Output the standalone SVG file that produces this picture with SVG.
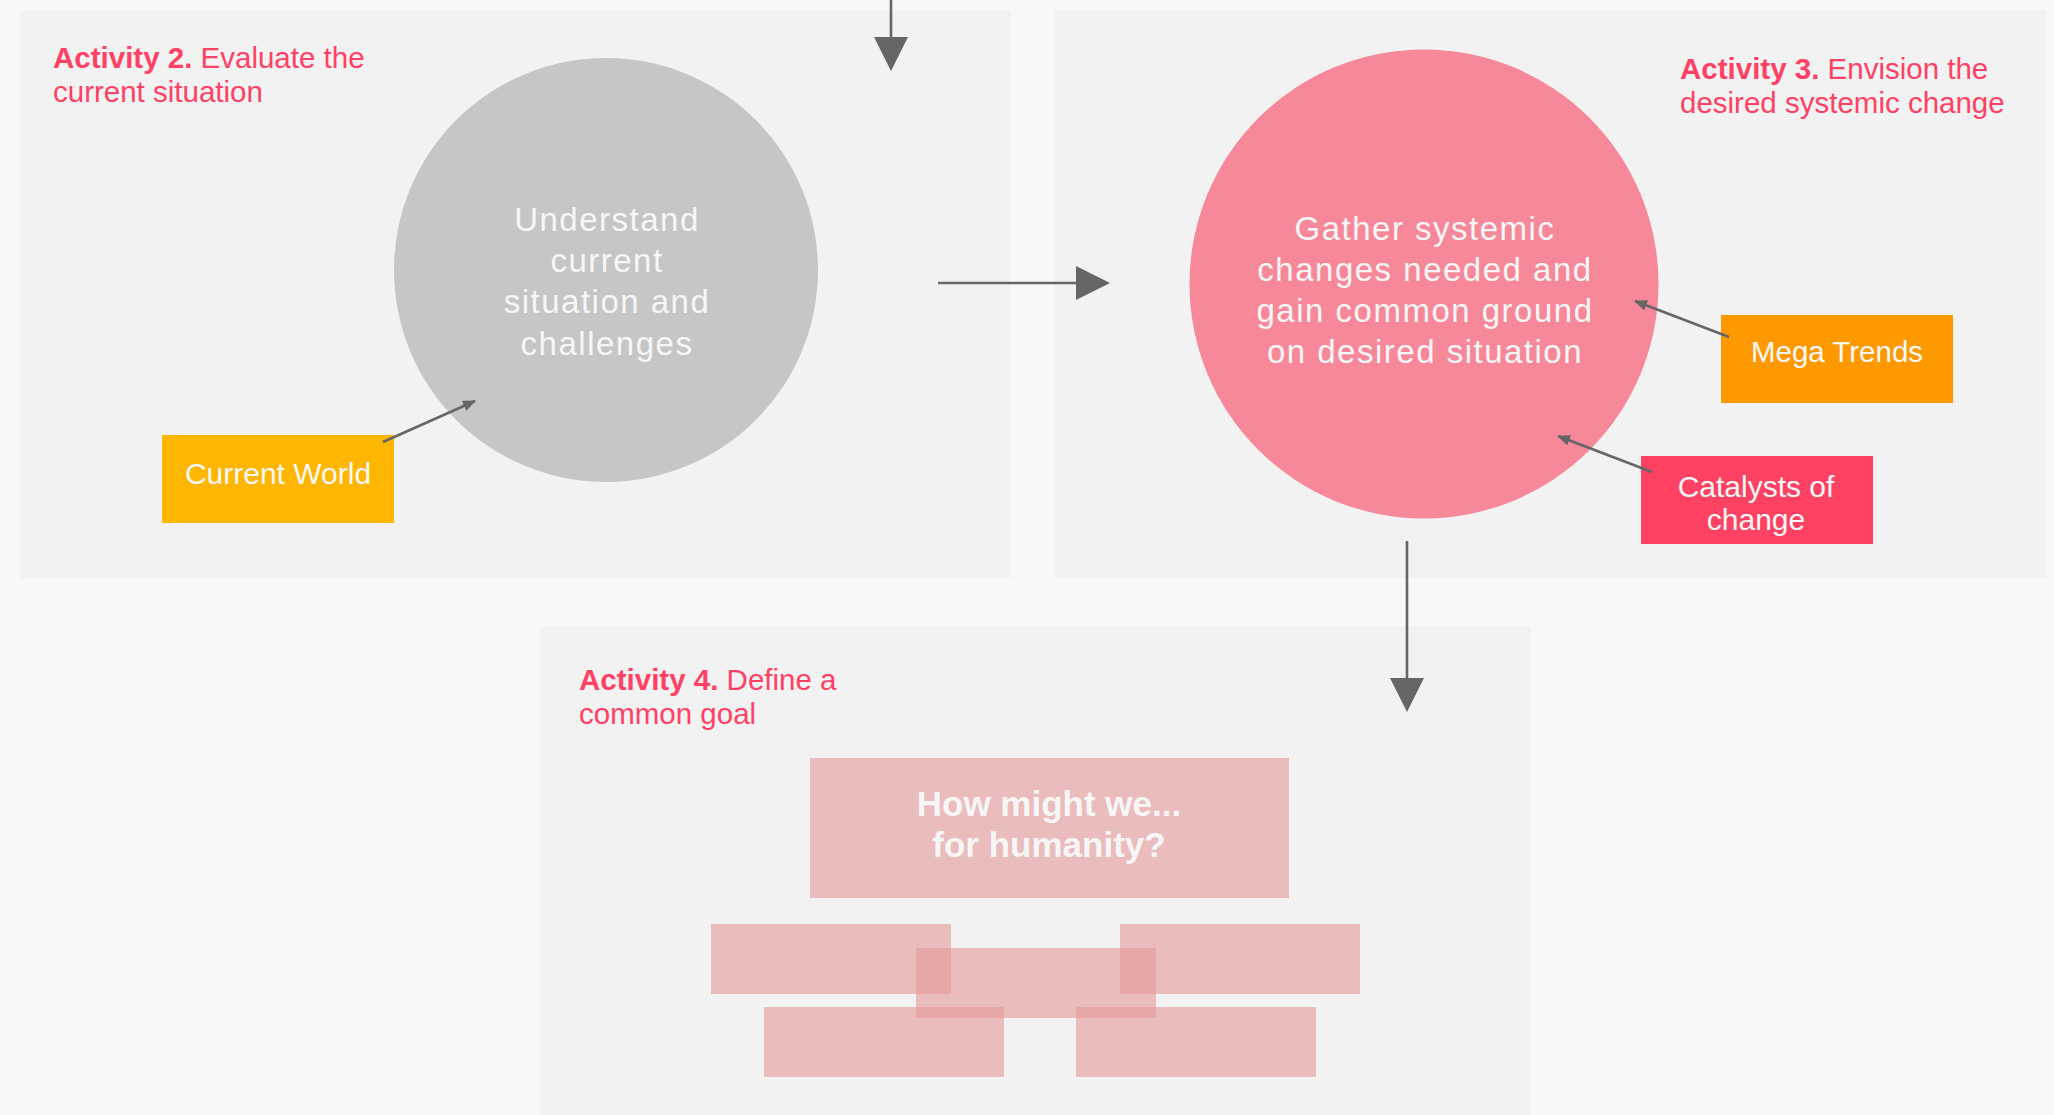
<svg xmlns="http://www.w3.org/2000/svg" width="2054" height="1115" viewBox="0 0 2054 1115">
  <style>
    .panel { fill: #f2f2f2; }
    .title { font-family: "Liberation Sans", Arial, sans-serif; font-size: 29.5px; fill: #fe4164; }
    .title .b { font-weight: bold; }
    .circle-text { font-family: "Liberation Sans", Arial, sans-serif; font-size: 33px; fill: #f6f6f6; text-anchor: middle; letter-spacing: 1.5px; }
    .tag-text { font-family: "Liberation Sans", Arial, sans-serif; font-size: 30px; fill: #f8f8f8; text-anchor: middle; }
    .hmw-text { font-family: "Liberation Sans", Arial, sans-serif; font-size: 35px; font-weight: bold; fill: #f6f6f6; text-anchor: middle; }
    .note { fill: #e7999a; fill-opacity: 0.61; }
    .flow { stroke: #666666; stroke-width: 2.6; fill: none; }
    .feed { stroke: #666666; stroke-width: 2.6; fill: none; }
  </style>
  <defs>
    <marker id="big-head" markerUnits="userSpaceOnUse" viewBox="0 0 34 34" refX="0" refY="17" markerWidth="34" markerHeight="34" orient="auto">
      <path d="M0,0 L34,17 L0,34 Z" fill="#666666"/>
    </marker>
    <marker id="small-head" markerUnits="userSpaceOnUse" viewBox="0 0 13 11" refX="12" refY="5.5" markerWidth="13" markerHeight="11" orient="auto">
      <path d="M0,0 L13,5.5 L0,11 Z" fill="#666666"/>
    </marker>
  </defs>

  <!-- page background -->
  <rect x="0" y="0" width="2054" height="1115" fill="#f7f8fa"/>

  <!-- Activity 2 -->
  <g id="activity-2">
    <rect class="panel" x="20" y="10" width="991" height="568"/>
    <text class="title" x="53" y="68"><tspan class="b">Activity 2.</tspan> Evaluate the</text>
    <text class="title" x="53" y="102">current situation</text>
  </g>
  <g id="current-situation">
    <circle cx="606" cy="270" r="212" fill="#c6c6c6"/>
    <text class="circle-text" x="607" y="231">Understand</text>
    <text class="circle-text" x="607" y="272">current</text>
    <text class="circle-text" x="607" y="313">situation and</text>
    <text class="circle-text" x="607" y="355">challenges</text>
  </g>
  <g id="current-world">
    <rect x="162" y="435" width="232" height="88" fill="#ffb600"/>
    <text class="tag-text" x="278" y="484">Current World</text>
  </g>

  <!-- Activity 3 -->
  <g id="activity-3">
    <rect class="panel" x="1055" y="10" width="991" height="568"/>
    <text class="title" x="1680" y="79"><tspan class="b">Activity 3.</tspan> Envision the</text>
    <text class="title" x="1680" y="113">desired systemic change</text>
  </g>
  <g id="desired-change">
    <circle cx="1424" cy="284" r="234.5" fill="#f7889a"/>
    <text class="circle-text" x="1425" y="240">Gather systemic</text>
    <text class="circle-text" x="1425" y="281">changes needed and</text>
    <text class="circle-text" x="1425" y="322">gain common ground</text>
    <text class="circle-text" x="1425" y="363">on desired situation</text>
  </g>
  <g id="mega-trends">
    <rect x="1721" y="315" width="232" height="88" fill="#ff9900"/>
    <text class="tag-text" x="1837" y="362" style="font-size:29.5px">Mega Trends</text>
  </g>
  <g id="catalysts">
    <rect x="1641" y="456" width="232" height="88" fill="#ff4163"/>
    <text class="tag-text" x="1756" y="497">Catalysts of</text>
    <text class="tag-text" x="1756" y="530">change</text>
  </g>

  <!-- Activity 4 -->
  <g id="activity-4">
    <rect class="panel" x="540" y="626" width="991" height="500"/>
    <text class="title" x="579" y="690"><tspan class="b">Activity 4.</tspan> Define a</text>
    <text class="title" x="579" y="724">common goal</text>
  </g>
  <g id="how-might-we">
    <rect class="note" x="810" y="758" width="479" height="140"/>
    <text class="hmw-text" x="1049" y="816">How might we...</text>
    <text class="hmw-text" x="1049" y="857">for humanity?</text>
  </g>
  <g id="idea-notes">
    <rect class="note" x="711" y="924" width="240" height="70"/>
    <rect class="note" x="1120" y="924" width="240" height="70"/>
    <rect class="note" x="916" y="948" width="240" height="70"/>
    <rect class="note" x="764" y="1007" width="240" height="70"/>
    <rect class="note" x="1076" y="1007" width="240" height="70"/>
  </g>

  <!-- connectors -->
  <g id="connectors">
    <line class="flow" x1="891" y1="-2" x2="891" y2="37" marker-end="url(#big-head)"/>
    <line class="flow" x1="938" y1="283" x2="1076" y2="283" marker-end="url(#big-head)"/>
    <line class="flow" x1="1407" y1="541" x2="1407" y2="678" marker-end="url(#big-head)"/>
    <line class="feed" x1="383" y1="442" x2="475" y2="401" marker-end="url(#small-head)"/>
    <line class="feed" x1="1729" y1="337" x2="1635" y2="301" marker-end="url(#small-head)"/>
    <line class="feed" x1="1652" y1="472" x2="1558" y2="436" marker-end="url(#small-head)"/>
  </g>
</svg>
